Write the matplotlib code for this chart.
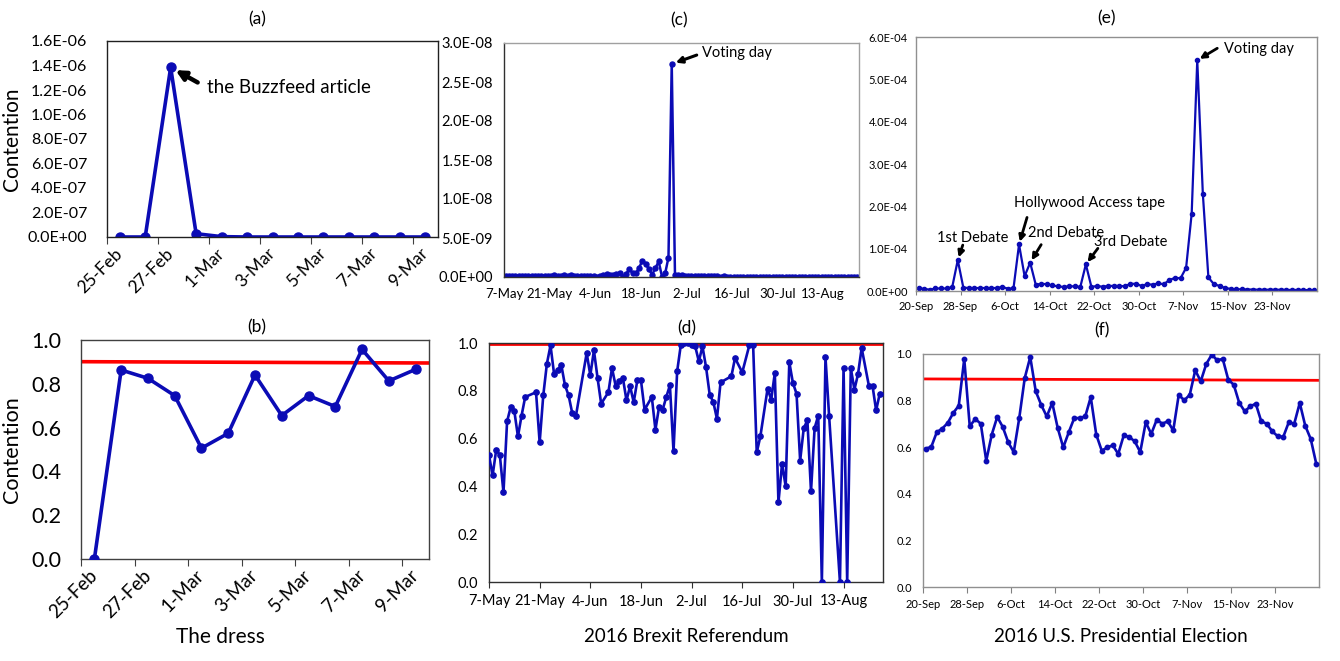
import matplotlib
matplotlib.use('Agg')
import matplotlib.pyplot as plt
from matplotlib.ticker import FixedLocator, FuncFormatter
import numpy as np

plt.rcParams['font.family'] = ['Lato', 'DejaVu Sans']

W, H = 1340, 661
BLUE = '#0b0bb5'
RED = '#ff0000'

# %% data: the dress (a, b)
dress_days = ['25-Feb', '26-Feb', '27-Feb', '28-Feb', '1-Mar', '2-Mar', '3-Mar',
              '4-Mar', '5-Mar', '6-Mar', '7-Mar', '8-Mar', '9-Mar']
dress_volume = [0, 0, 1.384e-6, 2.7e-8, 3e-9, 0, 0, 0, 0, 0, 0, 0, 0]
dress_contention = [0.0, 0.863, 0.825, 0.746, 0.506, 0.574, 0.840, 0.655,
                    0.746, 0.696, 0.957, 0.813, 0.866]
dress_threshold = [0.901, 0.895]

# %% data: brexit (c, d), days counted from 7-May
brexit_ticklabels = ['7-May', '21-May', '4-Jun', '18-Jun', '2-Jul', '16-Jul', '30-Jul', '13-Aug']
# volume in units of 1e-9, one value per day 7-May .. 23-Aug
brexit_volume_e9 = [0.15, 0.12, 0.18, 0.15, 0.10, 0.12, 0.10, 0.10, 0.12, 0.10,
                    0.15, 0.12, 0.10, 0.18, 0.15, 0.20, 0.12, 0.15, 0.20, 0.18,
                    0.20, 0.15, 0.10, 0.08, 0.10, 0.12, 0.15, 0.10, 0.05, 0.10,
                    0.20, 0.35, 0.30, 0.25, 0.40, 0.45, 0.05, 0.40, 1.00, 0.50,
                    0.45, 1.20, 2.10, 1.70, 1.00, 0.30, 1.15, 2.00, 0.05, 0.50,
                    2.50, 27.3, 0.20, 0.30, 0.25, 0.15, 0.10, 0.08, 0.10, 0.12,
                    0.10, 0.12, 0.10, 0.10, 0.08, 0.10, 0.05, 0.10, 0.02, 0.05,
                    0.04, 0.03, 0.05, 0.03, 0.04, 0.02, 0.03, 0.04, 0.03, 0.02,
                    0.03, 0.02, 0.03, 0.02, 0.03, 0.02, 0.02, 0.03, 0.02, 0.02,
                    0.03, 0.02, 0.02, 0.02, 0.03, 0.02, 0.02, 0.02, 0.03, 0.02,
                    0.02, 0.02, 0.02, 0.03, 0.02, 0.02, 0.02, 0.02, 0.02]
brexit_days = [0, 1, 2, 3, 4, 5, 6, 7, 8, 9, 10, 13, 14, 15, 16, 17, 18, 19, 20, 21,
               22, 23, 24, 27, 28, 29, 30, 31, 33, 34, 35, 36, 37, 38, 39, 40, 41, 42,
               43, 45, 46, 47, 48, 49, 50, 51, 52, 53, 54, 55, 56, 57, 58, 59, 60, 61,
               62, 63, 64, 67, 68, 70, 72, 73, 74, 75, 77, 78, 79, 80, 81, 82, 83, 84,
               85, 86, 87, 88, 89, 90, 91, 92, 93, 94, 97, 98, 99, 100, 101, 102, 103,
               105, 106, 107, 108]
brexit_contention = [0.53, 0.446, 0.554, 0.53, 0.375, 0.672, 0.732, 0.715, 0.609, 0.696,
                     0.774, 0.794, 0.584, 0.781, 0.913, 0.99, 0.869, 0.888, 0.907, 0.823,
                     0.781, 0.707, 0.693, 0.958, 0.865, 0.969, 0.854, 0.746, 0.794, 0.895,
                     0.821, 0.840, 0.854, 0.760, 0.819, 0.752, 0.844, 0.844, 0.721, 0.774,
                     0.637, 0.732, 0.721, 0.774, 0.823, 0.547, 0.881, 0.99, 1.0, 1.0,
                     0.99, 0.986, 0.923, 0.986, 0.898, 0.784, 0.753, 0.683, 0.835, 0.861,
                     0.937, 0.877, 0.993, 0.993, 0.542, 0.609, 0.809, 0.763, 0.874, 0.333,
                     0.495, 0.40, 0.92, 0.833, 0.788, 0.508, 0.644, 0.676, 0.379, 0.644,
                     0.696, 0.0, 0.941, 0.696, 0.0, 0.895, 0.0, 0.895, 0.805, 0.870,
                     0.979, 0.821, 0.821, 0.718, 0.788]
brexit_threshold = [0.995, 0.995]

# %% data: US election (e, f), one value per day 20-Sep .. 30-Nov
us_ticklabels = ['20-Sep', '28-Sep', '6-Oct', '14-Oct', '22-Oct', '30-Oct', '7-Nov', '15-Nov', '23-Nov']
# volume in units of 1e-4
us_volume_e4 = [0.063, 0.05, 0.03, 0.06, 0.06, 0.06, 0.09, 0.73, 0.08, 0.07,
                0.07, 0.07, 0.07, 0.07, 0.07, 0.095, 0.055, 0.06, 1.10, 0.35,
                0.67, 0.15, 0.17, 0.16, 0.13, 0.11, 0.095, 0.11, 0.11, 0.095,
                0.63, 0.095, 0.12, 0.10, 0.12, 0.12, 0.12, 0.11, 0.17, 0.17,
                0.12, 0.16, 0.15, 0.18, 0.16, 0.26, 0.31, 0.30, 0.55, 1.83,
                5.45, 2.30, 0.32, 0.16, 0.12, 0.07, 0.05, 0.04, 0.04, 0.035,
                0.035, 0.03, 0.03, 0.03, 0.03, 0.03, 0.025, 0.025, 0.025, 0.025,
                0.02, 0.015]
us_contention = [0.594, 0.601, 0.664, 0.680, 0.704, 0.747, 0.778, 0.979, 0.690, 0.721,
                 0.701, 0.542, 0.654, 0.730, 0.687, 0.621, 0.579, 0.725, 0.897, 0.987,
                 0.840, 0.781, 0.732, 0.790, 0.682, 0.599, 0.664, 0.725, 0.725, 0.732,
                 0.815, 0.654, 0.585, 0.599, 0.608, 0.571, 0.651, 0.644, 0.625, 0.579,
                 0.707, 0.657, 0.718, 0.701, 0.711, 0.672, 0.825, 0.801, 0.825, 0.930,
                 0.883, 0.957, 0.997, 0.973, 0.979, 0.890, 0.868, 0.790, 0.754, 0.775,
                 0.787, 0.711, 0.701, 0.668, 0.647, 0.644, 0.707, 0.701, 0.790, 0.692,
                 0.635, 0.529]
us_threshold = [0.893, 0.887]
us_events = [('1st Debate', 7), ('Hollywood Access tape', 18), ('2nd Debate', 20),
             ('3rd Debate', 30), ('Voting day', 50)]


# %%
fig = plt.figure(figsize=(W / 100, H / 100), dpi=100)


def px_axes(x0, y0, x1, y1):
    return fig.add_axes([x0 / W, 1 - y1 / H, (x1 - x0) / W, (y1 - y0) / H])


def px_text(x, y, s, size, **kw):
    fig.text(x / W, 1 - y / H, s, fontsize=size, ha='center', va='center', **kw)


def sci(v, pos):
    return f'{v:.1E}'


def frame(ax, color):
    for s in ax.spines.values():
        s.set_color(color)
        s.set_linewidth(1.0)


def arrow(ax, x, y, dx, dy, lw, ms, shrink=3):
    ax.annotate('', xy=(x, y), xytext=(dx, dy), textcoords='offset pixels',
                arrowprops=dict(arrowstyle='-|>', color='black', lw=lw,
                                mutation_scale=ms, shrinkA=0, shrinkB=shrink))


def label(ax, x, y, dx, dy, s, size, ha='center'):
    ax.annotate(s, xy=(x, y), xytext=(dx, dy), textcoords='offset pixels',
                ha=ha, va='center', fontsize=size)


def dress_xaxis(ax, size):
    n = len(dress_days)
    ax.set_xlim(-0.5, n - 0.5)
    ax.xaxis.set_major_locator(FixedLocator(np.arange(-0.5, n - 1, 2)))
    ax.xaxis.set_major_formatter(FuncFormatter(lambda v, p: ''))
    ax.xaxis.set_minor_locator(FixedLocator(np.arange(0, n, 2)))
    ax.set_xticklabels(dress_days[::2], minor=True, rotation=45, ha='right',
                       va='center', rotation_mode='anchor', fontsize=size)
    ax.tick_params(axis='x', which='major', length=5, direction='out', color='#404040')
    ax.tick_params(axis='x', which='minor', length=0, pad=10)
    ax.tick_params(axis='y', length=0, pad=14)


# %% (a)
ax = px_axes(107, 41, 438, 237)
x = np.arange(len(dress_days))
ax.plot(x, dress_volume, color=BLUE, lw=2.6, marker='o', ms=6.5)
ax.set_ylim(0, 1.6e-6)
ax.set_yticks(np.arange(0, 1.61e-6, 2e-7))
ax.yaxis.set_major_formatter(FuncFormatter(sci))
dress_xaxis(ax, 12.5)
ax.tick_params(axis='y', labelsize=11.5)
frame(ax, '#202020')
px_text(12, 139, 'Contention', 15, rotation=90)
pk = int(np.argmax(dress_volume))
arrow(ax, pk, dress_volume[pk], 27, -15, 3.2, 14, shrink=4)
label(ax, pk, dress_volume[pk], 36, -20, 'the Buzzfeed article', 13.5, ha='left')
px_text(257, 19, '(a)', 12.5)

# %% (b)
ax = px_axes(81, 340, 429, 559)
ax.plot(x, dress_contention, color=BLUE, lw=2.6, marker='o', ms=6.5, zorder=3)
ax.plot([-0.5, len(dress_days) - 0.5], dress_threshold, color=RED, lw=2.6, zorder=2)
ax.set_ylim(0, 1.0)
ax.set_yticks(np.arange(0, 1.01, 0.2))
ax.yaxis.set_major_formatter(FuncFormatter(lambda v, p: f'{v:.1f}'))
dress_xaxis(ax, 13.5)
ax.tick_params(axis='y', labelsize=15.5)
frame(ax, '#404040')
px_text(12, 450, 'Contention', 15.5, rotation=90)
px_text(257, 327, '(b)', 12.5)
px_text(220, 637, 'The dress', 15)

# %% (c)
ax = px_axes(504, 43, 859, 277)
xc = np.arange(len(brexit_volume_e9)) + 0.5
ax.plot(xc, np.array(brexit_volume_e9) * 1e-9, color=BLUE, lw=1.8, marker='o', ms=3.6)
ax.set_xlim(0, len(brexit_volume_e9))
ax.set_ylim(0, 3e-8)
ax.set_yticks(np.arange(0, 3.01e-8, 5e-9))
ax.yaxis.set_major_formatter(FuncFormatter(sci))
ax.set_xticks(np.arange(0, 14 * len(brexit_ticklabels), 14))
ax.set_xticklabels(brexit_ticklabels)
ax.tick_params(axis='y', length=0, labelsize=10.5, pad=8)
ax.tick_params(axis='x', length=0, labelsize=9.5, pad=8)
frame(ax, '#a0a0a0')
ax.spines['left'].set_color('#303030')
ax.spines['bottom'].set_color('#303030')
pc = int(np.argmax(brexit_volume_e9))
arrow(ax, xc[pc], brexit_volume_e9[pc] * 1e-9, 25, 9, 2.2, 9)
label(ax, xc[pc], brexit_volume_e9[pc] * 1e-9, 30, 11, 'Voting day', 10.5, ha='left')
px_text(679, 20, '(c)', 12.5)

# %% (d)
ax = px_axes(489, 343, 883, 582)
ax.plot(brexit_days, brexit_contention, color=BLUE, lw=1.9, marker='o', ms=3.8, zorder=3)
ax.set_xlim(0, 108.9)
ax.plot([0, 108.9], brexit_threshold, color=RED, lw=2.0, zorder=2)
ax.set_ylim(0, 1.0)
ax.set_yticks(np.arange(0, 1.01, 0.2))
ax.yaxis.set_major_formatter(FuncFormatter(lambda v, p: f'{v:.1f}'))
ax.set_xticks(np.arange(0, 14 * len(brexit_ticklabels), 14))
ax.set_xticklabels(brexit_ticklabels)
ax.tick_params(axis='x', length=4, direction='out', labelsize=10.5, pad=5, color='#303030')
ax.tick_params(axis='y', length=0, labelsize=10.5, pad=8)
frame(ax, '#303030')
px_text(687, 328, '(d)', 12.5)
px_text(686, 637, '2016 Brexit Referendum', 13.5)

# %% (e)
ax = px_axes(916, 37, 1317, 291)
xe = np.arange(len(us_volume_e4)) + 0.5
ve = np.array(us_volume_e4) * 1e-4
ax.plot(xe, ve, color=BLUE, lw=1.6, marker='o', ms=3.0)
ax.set_xlim(0, len(us_volume_e4))
ax.set_ylim(0, 6e-4)
ax.set_yticks(np.arange(0, 6.01e-4, 1e-4))
ax.yaxis.set_major_formatter(FuncFormatter(sci))
ax.set_xticks(np.arange(0, 8 * len(us_ticklabels), 8))
ax.set_xticklabels(us_ticklabels)
ax.tick_params(axis='x', length=3, direction='out', labelsize=8, pad=4, color='#808080')
ax.tick_params(axis='y', length=0, labelsize=8, pad=6)
frame(ax, '#909090')
# arrow offsets and label offsets in pixels, per event
ev_arrow = [(5, 15), (8, 27), (11, 18), (12, 16), (20, 12)]
ev_text = [(15, 22), (70, 41), (36, 30), (45, 22), (27, 11)]
for (name, i), (adx, ady), (tdx, tdy) in zip(us_events, ev_arrow, ev_text):
    arrow(ax, xe[i], ve[i], adx, ady, 2.0, 9, shrink=2)
    label(ax, xe[i], ve[i], tdx, tdy, name, 10.5, ha='left' if name == 'Voting day' else 'center')
px_text(1106, 18, '(e)', 12.5)

# %% (f)
ax = px_axes(923, 354, 1319, 587)
xf = np.arange(len(us_contention)) + 0.5
ax.plot(xf, us_contention, color=BLUE, lw=1.9, marker='o', ms=3.2, zorder=3)
ax.plot([0, len(us_contention)], us_threshold, color=RED, lw=2.0, zorder=2)
ax.set_xlim(0, len(us_contention))
ax.set_ylim(0, 1.0)
ax.set_yticks(np.arange(0, 1.01, 0.2))
ax.yaxis.set_major_formatter(FuncFormatter(lambda v, p: f'{v:.1f}'))
ax.set_xticks(np.arange(0, 8 * len(us_ticklabels), 8))
ax.set_xticklabels(us_ticklabels)
ax.tick_params(axis='x', length=4, direction='out', labelsize=8, pad=5, color='#808080')
ax.tick_params(axis='y', length=0, labelsize=8, pad=8)
frame(ax, '#909090')
px_text(1102, 330, '(f)', 12.5)
px_text(1121, 637, '2016 U.S. Presidential Election', 13.5)

fig.savefig('out.png', dpi=100)
